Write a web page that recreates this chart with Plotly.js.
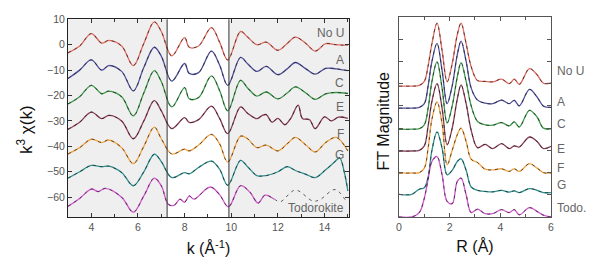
<!DOCTYPE html>
<html>
<head>
<meta charset="utf-8">
<script src="https://cdn.plot.ly/plotly-3.0.1.min.js"></script>
<style>html,body{margin:0;padding:0;background:#fff}#chart{width:598px;height:268px}</style>
</head>
<body>
<div id="chart"></div>
<script>
// ---------- Left panel: k^3 chi(k) ----------
const kGrid = [3.0,3.5,4.0,4.45,4.75,5.3,5.8,6.25,6.7,7.0,7.45,8.0,8.2,8.6,9.15,9.5,9.85,10.4,10.7,11.1,11.5,12.0,12.4,12.75,13.2,13.6,14.05,14.5,15.0];
const chiNoU = [-3.2,-0.5,4.4,0.6,1.7,-0.5,-8.2,0.5,9.0,5.2,-4.4,2.8,-1.0,-0.5,6.7,1.0,-6.0,5.2,3.0,0.0,1.0,-2.2,0.5,3.0,0.5,-2.5,0.4,0.0,-0.3];
const chiA   = [-13.3,-10,-6.0,-10.0,-8.2,-10.5,-18.2,-9,-1.0,-4.5,-14.3,-7.4,-11.3,-11.0,-2.5,-8,-16.0,-5.0,-7.5,-10.5,-8.5,-11.8,-9.5,-7.0,-9.5,-11.6,-9.3,-9.5,-10.2];
const chiC   = [-23.3,-20.5,-16.0,-19.3,-18.3,-20.5,-28.0,-19,-10.2,-14.5,-24.5,-16.9,-21.3,-20.8,-12.3,-18,-26.0,-14.0,-17,-20.2,-18.6,-21.3,-19,-16.6,-19,-21.5,-19.3,-18.8,-19.2];
const chiF   = [-43,-40.5,-37.2,-38.5,-37.5,-40.5,-46.8,-40,-32.4,-37,-43.0,-41.1,-41.8,-39.5,-35.3,-39,-46.2,-36.0,-37,-40.5,-39.5,-41.8,-39,-36.5,-39.5,-42.2,-38.5,-36.5,-41.8];
const kE   = [3.0,3.5,4.0,4.45,4.75,5.3,5.8,6.25,6.7,7.0,7.45,8.0,8.2,8.6,9.15,9.5,9.85,10.4,10.7,11.1,11.3,11.5,11.75,12.0,12.3,12.55,12.87,13.05,13.36,13.6,14.0,14.3,14.6,15.0];
const chiE = [-33.3,-30.5,-26.5,-29.1,-27.8,-30,-37.0,-30,-22.0,-26,-33.0,-28.7,-30.6,-29.5,-24.2,-29,-35.0,-24.5,-27,-29.1,-28,-27.5,-30.5,-29,-31.5,-29,-23.8,-29,-29.5,-33,-28.4,-30,-28.5,-29];
const kG   = [3.0,3.5,4.0,4.45,4.75,5.3,5.8,6.25,6.7,7.0,7.45,8.0,8.2,8.6,9.15,9.5,9.85,10.4,10.7,11.1,11.5,12.0,12.4,12.75,13.2,13.6,14.05,14.45,14.65,14.85,15.0];
const chiG = [-52.5,-50,-47.5,-48,-47.8,-50.3,-55.5,-50,-43.1,-46,-52.3,-50.3,-50.8,-48.3,-45.8,-49,-55.3,-45.5,-48,-51.5,-51.5,-50,-48,-49.5,-51,-52.3,-49.2,-46,-44.5,-50.3,-57.5];
const kTodo   = [3.0,3.5,4.0,4.3,4.6,5.3,5.8,6.25,6.7,7.0,7.3,7.55,7.8,8.0,8.2,8.4,9.1,9.5,9.88,10.4,10.8,11.15,11.45,11.85];
const chiTodo = [-63.6,-60.5,-56.8,-57.8,-56.5,-60,-65.9,-59.5,-52.5,-55.5,-62.8,-63.2,-60.8,-62,-59.5,-60.8,-56,-59,-63.8,-55.5,-58,-62.3,-59.2,-60.8];
const kTodoFitExt   = [12.1,12.75,13.5,13.8,14.45,14.95];
const chiTodoFitExt = [-61.8,-57.2,-61.5,-61.0,-57.0,-62.0];

// ---------- Right panel: FT magnitude ----------
const rGrid = [0,0.5,0.8,1.0,1.15,1.3,1.5,1.7,1.9,2.1,2.3,2.45,2.65,2.85,3.1,3.4,3.7,4.05,4.35,4.55,4.75,5.15,5.45,5.7,6.0];
const ftNoU = [5.89,5.89,5.92,6.1,6.8,7.8,8.72,7.5,6.08,6.9,8.2,8.72,7.8,6.76,6.14,6.1,6.08,6.2,6.0,6.2,5.97,6.68,6.4,6.02,6.03];
const ftA   = [4.9,4.9,4.93,5.1,5.9,7.0,7.81,6.6,5.1,5.9,7.3,7.91,7.0,5.8,5.26,5.12,5.1,5.26,5.1,5.25,5.0,5.74,5.4,4.99,4.93];
const ftC   = [3.95,3.95,3.98,4.15,4.9,6.1,6.98,5.8,4.23,5.0,6.3,6.95,6.1,5.0,4.3,4.15,4.13,4.25,4.1,4.28,4.05,4.8,4.5,4.0,3.97];
const ftE   = [2.97,2.97,3.0,3.2,4.1,5.2,6.0,4.9,3.25,4.0,5.3,5.95,5.1,3.9,3.12,3.27,3.08,3.3,3.08,3.2,3.15,3.6,3.4,3.08,3.18];
const ftF   = [1.98,1.98,2.0,2.2,3.1,4.4,5.18,4.2,2.35,3.0,3.7,4.0,3.4,2.6,2.45,2.15,2.12,2.17,2.05,2.17,2.05,2.4,2.2,2.0,1.98];
const ftG   = [1.02,1.02,1.25,1.32,1.8,3.0,3.83,3.1,1.9,2.1,2.5,2.62,2.1,1.35,1.2,1.15,1.13,1.2,1.12,1.18,1.1,1.28,1.2,1.1,1.1];
const ftTodo= [0,0,0.2,0.85,1.7,2.5,2.72,1.9,0.7,0.6,1.6,1.75,1.0,0.2,0.35,0.15,0.15,0.33,0.2,0.33,0.1,0.42,0.25,0.08,0.0];

const labelsLeft  = ['No U','A','C','E','F','G','Todorokite'];
const labelsRight = ['No U','A','C','E','F','G','Todo.'];
const colors = ['#e26b60','#50509e','#3f9a4c','#8c3d57','#f2a443','#2f9190','#d157cf'];

const leftSeries = [
  [kGrid, chiNoU], [kGrid, chiA], [kGrid, chiC], [kE, chiE], [kGrid, chiF], [kG, chiG], [kTodo, chiTodo]
];
const rightSeries = [ftNoU, ftA, ftC, ftE, ftF, ftG, ftTodo];

const fitStyle = {color:'rgba(30,30,30,0.7)', width:1, dash:'3px,4px', shape:'spline'};
const traces = [];
leftSeries.forEach((s, i) => {
  traces.push({x:s[0], y:s[1], xaxis:'x', yaxis:'y', mode:'lines', line:{color:colors[i], width:1.3, shape:'spline'}, hoverinfo:'skip', showlegend:false});
});
leftSeries.forEach((s, i) => {
  let fx = s[0], fy = s[1];
  if (i === 6) { fx = kTodo.concat(kTodoFitExt); fy = chiTodo.concat(chiTodoFitExt); }
  traces.push({x:fx, y:fy, xaxis:'x', yaxis:'y', mode:'lines', line:fitStyle, hoverinfo:'skip', showlegend:false});
});
rightSeries.forEach((v, i) => {
  traces.push({x:rGrid, y:v, xaxis:'x2', yaxis:'y2', mode:'lines', line:{color:colors[i], width:1.3, shape:'spline'}, hoverinfo:'skip', showlegend:false});
});
rightSeries.forEach((v, i) => {
  traces.push({x:rGrid, y:v, xaxis:'x2', yaxis:'y2', mode:'lines', line:fitStyle, hoverinfo:'skip', showlegend:false});
});

const labelYLeft  = [4.5,-6.1,-15.2,-24.6,-35.2,-43.5,-64.3];
const labelYRight = [6.56,5.18,4.2,3.08,2.22,1.43,0.42];
const annFont = {family:'Liberation Sans, Arial, sans-serif', size:12, color:'#666'};
const annotations = [];
labelsLeft.forEach((t, i) => annotations.push({text:t, xref:'x', yref:'y', x:14.93, y:labelYLeft[i], xanchor:'right', yanchor:'middle', showarrow:false, font:annFont}));
labelsRight.forEach((t, i) => annotations.push({text:t, xref:'paper', yref:'y2', x:1.008, y:labelYRight[i], xanchor:'left', yanchor:'middle', showarrow:false, font:annFont}));
annotations.push({text:'k<sup>3</sup> χ(k)', xref:'paper', yref:'paper', x:-0.089, y:0.435, xanchor:'center', yanchor:'middle', textangle:-90, showarrow:false, font:{family:'Liberation Sans, Arial, sans-serif', size:17, color:'#111'}});
annotations.push({text:'FT Magnitude', xref:'paper', yref:'paper', x:0.653, y:0.48, xanchor:'center', yanchor:'middle', textangle:-90, showarrow:false, font:{family:'Liberation Sans, Arial, sans-serif', size:16, color:'#111'}});

const tickFont = {family:'Liberation Sans, Arial, sans-serif', size:10.5, color:'#555'};
const titleFont = {family:'Liberation Sans, Arial, sans-serif', size:16, color:'#111'};

const layout = {
  width:598, height:268,
  margin:{l:68, r:47, t:17, b:51},
  paper_bgcolor:'#fff', plot_bgcolor:'rgba(0,0,0,0)',
  showlegend:false,
  font:{family:'Liberation Sans, Arial, sans-serif'},
  xaxis:{domain:[0,0.5818], range:[3,15.05], dtick:2, tick0:0, ticks:'inside', ticklen:4, tickcolor:'#333', mirror:'ticks', showline:true, linecolor:'#222', linewidth:1,
         minor:{dtick:1, ticks:'inside', ticklen:3, tickcolor:'#333'}, showgrid:false, zeroline:false, tickfont:tickFont,
         title:{text:'k (Å<sup>-1</sup>)', font:titleFont, standoff:11}, automargin:false, fixedrange:true},
  yaxis:{domain:[0,0.9885], range:[-67.8,10], dtick:10, tick0:0, ticks:'inside', ticklen:4, tickcolor:'#333', mirror:'ticks', showline:true, linecolor:'#222', linewidth:1,
         showgrid:false, zeroline:false, tickfont:tickFont, automargin:false, fixedrange:true},
  xaxis2:{domain:[0.6853,1], anchor:'y2', range:[0,6], dtick:2, tick0:0, ticks:'inside', ticklen:4, tickcolor:'#555', mirror:'ticks', showline:true, linecolor:'#555', linewidth:1,
         minor:{dtick:1, ticks:'inside', ticklen:3, tickcolor:'#555'}, showgrid:false, zeroline:false, tickfont:tickFont,
         title:{text:'R (Å)', font:titleFont, standoff:9}, automargin:false, fixedrange:true},
  yaxis2:{domain:[0,1], anchor:'x2', range:[0,9], dtick:1, tick0:0, ticks:'inside', ticklen:4, tickcolor:'#555', mirror:'ticks', showline:true, linecolor:'#555', linewidth:1,
         showticklabels:false, showgrid:false, zeroline:false, automargin:false, fixedrange:true},
  shapes:[
    {type:'rect', xref:'x', yref:'y domain', x0:3, x1:7.25, y0:0, y1:1, fillcolor:'#efefef', line:{width:0}, layer:'below'},
    {type:'rect', xref:'x', yref:'y domain', x0:9.9, x1:15.05, y0:0, y1:1, fillcolor:'#efefef', line:{width:0}, layer:'below'},
    {type:'line', xref:'x', yref:'y domain', x0:7.25, x1:7.25, y0:0, y1:1, line:{color:'#333', width:1}},
    {type:'line', xref:'x', yref:'y domain', x0:9.9, x1:9.9, y0:0, y1:1, line:{color:'#333', width:1}}
  ],
  annotations:annotations
};

Plotly.newPlot('chart', traces, layout, {staticPlot:true, displayModeBar:false});
</script>
</body>
</html>
